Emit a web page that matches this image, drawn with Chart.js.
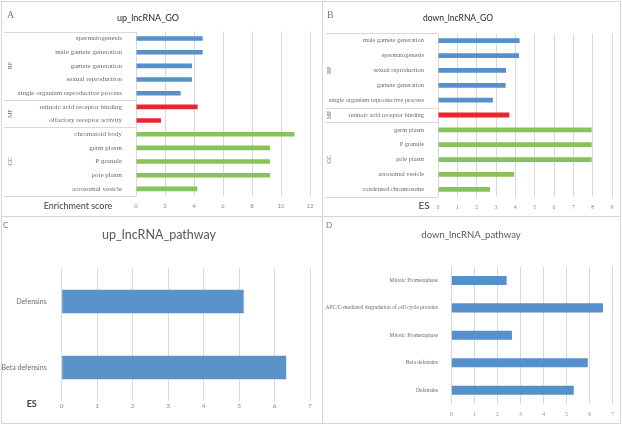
<!DOCTYPE html>
<html>
<head>
<meta charset="utf-8">
<script src="https://cdn.jsdelivr.net/npm/chart.js@4"></script>
<style>
  body { margin: 0; background: #fff; }
  #wrap { position: relative; width: 622px; height: 425px; background: #fff; overflow: hidden; }
  canvas { position: absolute; }
  .ln { position: absolute; background: #d6d6d6; }
</style>
</head>
<body>
<div id="wrap">
  <canvas id="chartA" width="322" height="216" style="left:0;top:0"></canvas>
  <canvas id="chartB" width="299" height="216" style="left:323px;top:0"></canvas>
  <canvas id="chartC" width="322" height="208" style="left:0;top:217px"></canvas>
  <canvas id="chartD" width="299" height="208" style="left:323px;top:217px"></canvas>
  <div class="ln" style="left:1px;top:1px;width:620px;height:1px"></div>
  <div class="ln" style="left:1px;top:216px;width:620px;height:1px"></div>
  <div class="ln" style="left:1px;top:423px;width:620px;height:1px"></div>
  <div class="ln" style="left:1px;top:1px;width:1px;height:423px"></div>
  <div class="ln" style="left:322px;top:1px;width:1px;height:423px"></div>
  <div class="ln" style="left:620px;top:1px;width:1px;height:423px"></div>
</div>
<script>
// A: up_lncRNA_GO
const upGoTerms = ['spermatogenesis', 'male gamete generation', 'gamete generation', 'sexual reproduction',
  'single organism reproductive process', 'retinoic acid receptor binding', 'olfactory receptor activity',
  'chromatoid body', 'germ plasm', 'P granule', 'pole plasm', 'acrosomal vesicle'];
const upGoScores = [4.6, 4.6, 3.86, 3.86, 3.08, 4.25, 1.72, 10.93, 9.24, 9.24, 9.24, 4.23];
const upGoGroups = ['BP', 'MF', 'CC'];
const upGoGroupSizes = [5, 2, 5];

// B: down_lncRNA_GO
const downGoTerms = ['male gamete generation', 'spermatogenesis', 'sexual reproduction', 'gamete generation',
  'single organism reproductive process', 'retinoic acid receptor binding',
  'germ plasm', 'P granule', 'pole plasm', 'acrosomal vesicle', 'condensed chromosome'];
const downGoScores = [4.22, 4.19, 3.52, 3.5, 2.84, 3.69, 7.95, 7.95, 7.95, 3.93, 2.69];
const downGoGroups = ['BP', 'MF', 'CC'];
const downGoGroupSizes = [5, 1, 5];

// C: up_lncRNA_pathway
const upPathTerms = ['Defensins', 'Beta defensins'];
const upPathScores = [5.13, 6.33];

// D: down_lncRNA_pathway
const downPathTerms = ['Mitotic Prometaphase', 'APC/C-mediated degradation of cell cycle proteins',
  'Mitotic Prometaphase', 'Beta defensins', 'Defensins'];
const downPathScores = [2.4, 6.58, 2.63, 5.92, 5.31];

const groupColor = { BP: '#5590cb', MF: '#e8262d', CC: '#88c25a' };
const grid = '#d9d9d9';

function colorsFor(groups, sizes) {
  const out = [];
  groups.forEach((g, i) => { for (let k = 0; k < sizes[i]; k++) out.push(groupColor[g]); });
  return out;
}

// draws panel letter, title, axis caption and the BP/MF/CC group brackets
function decor(cfg) {
  return {
    id: 'decor',
    afterDraw(chart) {
      const ctx = chart.ctx;
      ctx.save();
      ctx.textBaseline = 'middle';
      ctx.textAlign = 'left';
      ctx.fillStyle = '#777';
      ctx.font = cfg.letterFont;
      ctx.fillText(cfg.letter, cfg.letterX, cfg.letterY);

      ctx.textAlign = 'center';
      ctx.fillStyle = cfg.titleColor;
      ctx.font = cfg.titleFont;
      ctx.fillText(cfg.title, cfg.titleX, cfg.titleY);

      ctx.fillStyle = '#404040';
      ctx.font = cfg.axisFont;
      ctx.fillText(cfg.axis, cfg.axisX, cfg.axisY);

      if (cfg.groups) {
        const y = chart.scales.y;
        const half = (y.getPixelForValue(1) - y.getPixelForValue(0)) / 2;
        const right = chart.chartArea.left;
        ctx.strokeStyle = grid;
        ctx.lineWidth = 1;
        const hline = py => {
          ctx.beginPath();
          ctx.moveTo(cfg.groupLeft, Math.round(py) + 0.5);
          ctx.lineTo(right, Math.round(py) + 0.5);
          ctx.stroke();
        };
        hline(y.getPixelForValue(0) - half);
        ctx.fillStyle = '#666';
        ctx.font = cfg.groupFont;
        let start = 0;
        cfg.groups.forEach((g, i) => {
          const end = start + cfg.groupSizes[i];
          const top = y.getPixelForValue(start) - half;
          const bot = y.getPixelForValue(end - 1) + half;
          hline(bot);
          ctx.save();
          ctx.translate(cfg.groupX, (top + bot) / 2);
          ctx.rotate(-Math.PI / 2);
          ctx.fillText(g, 0, 0);
          ctx.restore();
          start = end;
        });
      }
      ctx.restore();
    }
  };
}

function barChart(id, terms, scores, colors, o) {
  return new Chart(document.getElementById(id), {
    type: 'bar',
    data: {
      labels: terms,
      datasets: [{ data: scores, backgroundColor: colors, barPercentage: o.bar, categoryPercentage: 1 }]
    },
    options: {
      indexAxis: 'y',
      responsive: false,
      animation: false,
      devicePixelRatio: 1,
      layout: { padding: { top: o.top, right: o.right, left: 0, bottom: 0 } },
      plugins: { legend: { display: false }, tooltip: { enabled: false }, title: { display: false } },
      scales: {
        x: {
          min: 0, max: o.max,
          ticks: { stepSize: o.step, autoSkip: false, maxRotation: 0, padding: o.tickPad, color: '#8c8c8c', font: o.tickFont },
          grid: { color: grid, drawTicks: false },
          border: { display: false },
          afterFit: s => { s.height = o.xHeight; }
        },
        y: {
          ticks: { autoSkip: false, padding: o.labelPad, color: '#6b6b6b', font: o.labelFont },
          grid: { display: false },
          border: { display: false },
          afterFit: s => { s.width = o.yWidth; }
        }
      }
    },
    plugins: [decor(o.decor)]
  });
}

barChart('chartA', upGoTerms, upGoScores, colorsFor(upGoGroups, upGoGroupSizes), {
  bar: 0.34, top: 31.7, right: 12, max: 12, step: 2, xHeight: 20.3, yWidth: 136,
  tickPad: 7, tickFont: { family: 'Lato', size: 6 }, labelPad: 6,
  labelFont: { family: 'Liberation Serif', size: 7 },
  decor: {
    letter: 'A', letterX: 7, letterY: 15, letterFont: '10px "Liberation Serif"',
    title: 'up_lncRNA_GO', titleX: 148, titleY: 18.5, titleFont: '9px Lato', titleColor: '#262626',
    axis: 'Enrichment score', axisX: 78, axisY: 206, axisFont: '9px Lato',
    groups: upGoGroups, groupSizes: upGoGroupSizes, groupLeft: 4, groupX: 10,
    groupFont: '6px "Liberation Serif"'
  }
});

barChart('chartB', downGoTerms, downGoScores, colorsFor(downGoGroups, downGoGroupSizes), {
  bar: 0.32, top: 33.3, right: 10, max: 9, step: 1, xHeight: 19.3, yWidth: 115,
  tickPad: 7, tickFont: { family: 'Liberation Serif', size: 6 }, labelPad: 6,
  labelFont: { family: 'Liberation Serif', size: 6.4 },
  decor: {
    letter: 'B', letterX: 4, letterY: 15, letterFont: '10px "Liberation Serif"',
    title: 'down_lncRNA_GO', titleX: 135, titleY: 18.5, titleFont: '8.5px Lato', titleColor: '#262626',
    axis: 'ES', axisX: 101, axisY: 206, axisFont: '10px Lato',
    groups: downGoGroups, groupSizes: downGoGroupSizes, groupLeft: 3, groupX: 6.5,
    groupFont: '6px "Liberation Serif"'
  }
});

barChart('chartC', upPathTerms, upPathScores, '#5a93c9', {
  bar: 0.355, top: 51.3, right: 12, max: 7, step: 1, xHeight: 24.3, yWidth: 61.7,
  tickPad: 1.5, tickFont: { family: 'Lato', size: 6.5 }, labelPad: 7,
  labelFont: { family: 'Lato', size: 7 },
  decor: {
    letter: 'C', letterX: 3, letterY: 8, letterFont: '8px Lato',
    title: 'up_lncRNA_pathway', titleX: 159, titleY: 17.5, titleFont: '12.5px Lato', titleColor: '#595959',
    axis: 'ES', axisX: 31.7, axisY: 187.5, axisFont: 'bold 9px Lato'
  }
});

barChart('chartD', downPathTerms, downPathScores, '#5590cb', {
  bar: 0.33, top: 49.7, right: 9.3, max: 7, step: 1, xHeight: 21.1, yWidth: 128.3,
  tickPad: 7.5, tickFont: { family: 'Liberation Serif', size: 5.5 }, labelPad: 5.3,
  labelFont: { family: 'Liberation Serif', size: 5.5 },
  decor: {
    letter: 'D', letterX: 3, letterY: 8, letterFont: '8px Lato',
    title: 'down_lncRNA_pathway', titleX: 148, titleY: 17.5, titleFont: '9.5px Lato', titleColor: '#595959',
    axis: '', axisX: 0, axisY: 0, axisFont: '8px Lato'
  }
});
</script>
</body>
</html>
